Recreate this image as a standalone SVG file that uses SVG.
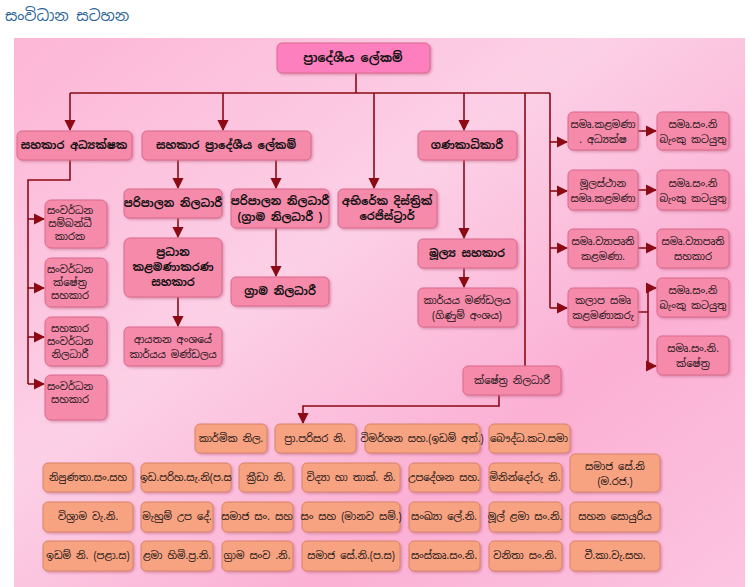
<svg xmlns="http://www.w3.org/2000/svg" width="756" height="587" viewBox="0 0 756 587">
<defs>
<linearGradient id="bg" x1="0" y1="0" x2="1" y2="1">
<stop offset="0" stop-color="#fdb6d6"/><stop offset="0.4" stop-color="#fcd0e6"/><stop offset="0.7" stop-color="#fbb0d4"/><stop offset="1" stop-color="#fcc4e0"/>
</linearGradient>
<marker id="ar" viewBox="0 0 10 10" refX="9" refY="5" markerWidth="7" markerHeight="7" orient="auto"><path d="M0,0L10,5L0,10z" fill="#8b0a14"/></marker>
<filter id="sh" x="-10%" y="-10%" width="130%" height="140%"><feDropShadow dx="1.5" dy="1.5" stdDeviation="1" flood-color="#c06080" flood-opacity="0.5"/></filter>
</defs>
<style>
text{font-family:"Noto Sans Sinhala","Iskoola Pota","Noto Sans",sans-serif;fill:#111;text-anchor:middle;font-size:10px}
.p rect{fill:#f68aaa;stroke:#d86a8c;stroke-width:1;filter:url(#sh)}
.s rect{fill:#f7a281;stroke:#d88466;stroke-width:1;filter:url(#sh)}
.b{font-weight:bold;font-size:11px}
.c path{fill:none;stroke:#8b0a14;stroke-width:1.6}
.c .a{marker-end:url(#ar)}
</style>
<rect width="756" height="587" fill="#fff"/>
<text x="5" y="21" style="text-anchor:start;font-size:15px;fill:#2a6496">සංවිධාන සටහන</text>
<rect x="14" y="38" width="731" height="549" fill="url(#bg)"/>

<g class="c">
<path d="M356,73V93M70,93H550"/>
<path class="a" d="M70,93V130"/>
<path class="a" d="M223,93V130"/>
<path class="a" d="M464,93V130"/>
<path class="a" d="M374,93V188"/>
<path d="M525,93V366"/>
<path d="M550,93V308"/>
<path class="a" d="M550,142H567"/><path class="a" d="M550,191H567"/><path class="a" d="M550,248H567"/><path class="a" d="M550,308H567"/>
<path class="a" d="M638,131H656"/><path class="a" d="M638,190H656"/><path class="a" d="M638,248H656"/>
<path d="M638,312H648M648,288V366"/>
<path class="a" d="M648,288H656"/><path class="a" d="M648,366H656"/>
<path d="M70,160V180H28V384"/>
<path class="a" d="M28,219H44"/><path class="a" d="M28,288H44"/><path class="a" d="M28,337H44"/><path class="a" d="M28,384H44"/>
<path class="a" d="M178,160V188"/><path class="a" d="M276,160V188"/>
<path class="a" d="M178,218V237"/><path class="a" d="M178,297V326"/>
<path class="a" d="M276,228V276"/>
<path class="a" d="M464,160V238"/><path class="a" d="M464,268V287"/>
<path class="a" d="M499,395V406H303V423"/>
</g>

<g id="top" class="p"><rect x="277" y="43" width="153" height="30" rx="5" style="fill:#fd7fbd"/><text class="b" x="353" y="62" style="font-size:12px">ප්‍රාදේශීය ලේකම්</text></g>
<g id="n1" class="p"><rect x="17" y="131" width="115" height="29" rx="5"/><text class="b" x="74" y="149">සහකාර අධ්‍යක්ෂක</text></g>
<g id="n2" class="p"><rect x="142" y="131" width="169" height="29" rx="5"/><text class="b" x="226" y="149">සහකාර ප්‍රාදේශීය ලේකම්</text></g>
<g id="n3" class="p"><rect x="418" y="131" width="99" height="29" rx="5"/><text class="b" x="467" y="149">ගණකාධිකාරී</text></g>
<g id="n4" class="p"><rect x="338" y="189" width="99" height="39" rx="5"/><text class="b" x="387" y="205">අභිරේක දිස්ත්‍රික්</text><text class="b" x="387" y="220">රෙජිස්ට්‍රාර්</text></g>
<g id="n5" class="p"><rect x="124" y="189" width="98" height="29" rx="5"/><text class="b" x="173" y="207">පරිපාලන නිලධාරී</text></g>
<g id="n6" class="p"><rect x="231" y="189" width="98" height="39" rx="5"/><text class="b" x="280" y="205">පරිපාලන නිලධාරී</text><text class="b" x="280" y="221">(ග්‍රාම නිලධාරී )</text></g>
<g id="n7" class="p"><rect x="124" y="238" width="98" height="59" rx="6"/><text class="b" x="173" y="256">ප්‍රධාන</text><text class="b" x="173" y="271">කළමණාකරණ</text><text class="b" x="173" y="286">සහකාර</text></g>
<g id="n8" class="p"><rect x="124" y="327" width="98" height="39" rx="5"/><text x="173" y="343">ආයතන අංශයේ</text><text x="173" y="358">කාර්යය මණ්ඩලය</text></g>
<g id="n9" class="p"><rect x="231" y="277" width="98" height="29" rx="5"/><text class="b" x="280" y="295">ග්‍රාම නිලධාරී</text></g>
<g id="n10" class="p"><rect x="418" y="239" width="99" height="29" rx="5"/><text class="b" x="467" y="257">මූල්‍ය සහකාර</text></g>
<g id="n11" class="p"><rect x="418" y="288" width="99" height="39" rx="5"/><text x="467" y="304">කාර්යය මණ්ඩලය</text><text x="467" y="319">(ගිණුම් අංශය)</text></g>
<g id="n12" class="p"><rect x="463" y="366" width="98" height="29" rx="5"/><text x="512" y="384">ක්ෂේත්‍ර නිලධාරී</text></g>
<g id="l1" class="p"><rect x="45" y="200" width="62" height="48" rx="6"/><text x="70" y="214">සංවර්ධන</text><text x="70" y="227">සම්බන්ධී</text><text x="70" y="240">කාරක</text></g>
<g id="l2" class="p"><rect x="45" y="258" width="62" height="49" rx="6"/><text x="70" y="273">සංවර්ධන</text><text x="70" y="286">ක්ෂේත්‍ර</text><text x="70" y="299">සහකාර</text></g>
<g id="l3" class="p"><rect x="45" y="317" width="62" height="49" rx="6"/><text x="70" y="332">සහකාර</text><text x="70" y="345">සංවර්ධන</text><text x="70" y="358">නිලධාරී</text></g>
<g id="l4" class="p"><rect x="45" y="375" width="62" height="45" rx="6"/><text x="70" y="390">සංවර්ධන</text><text x="70" y="403">සහකාර</text></g>
<g id="r1" class="p"><rect x="568" y="112" width="70" height="38" rx="5"/><text x="603" y="128">සමෘ.කළමණා</text><text x="603" y="143">. අධ්‍යක්ෂ</text></g>
<g id="r2" class="p"><rect x="657" y="112" width="72" height="38" rx="5"/><text x="693" y="128">සමෘ.සං.නි</text><text x="693" y="143">බැංකු කටයුතු</text></g>
<g id="r3" class="p"><rect x="568" y="170" width="70" height="40" rx="5"/><text x="603" y="187">මූලස්ථාන</text><text x="603" y="202">සමෘ.කළමණා</text></g>
<g id="r4" class="p"><rect x="657" y="170" width="72" height="40" rx="5"/><text x="693" y="187">සමෘ.සං.නි</text><text x="693" y="202">බැංකු කටයුතු</text></g>
<g id="r5" class="p"><rect x="568" y="229" width="70" height="39" rx="5"/><text x="603" y="245">සමෘ.ව්‍යාපෘති</text><text x="603" y="260">කළමණා.</text></g>
<g id="r6" class="p"><rect x="657" y="229" width="72" height="39" rx="5"/><text x="693" y="245">සමෘ.ව්‍යාපෘති</text><text x="693" y="260">සහකාර</text></g>
<g id="r7" class="p"><rect x="568" y="288" width="70" height="39" rx="5"/><text x="603" y="304">කලාප සමෘ</text><text x="603" y="319">කළමණාකරු</text></g>
<g id="r8" class="p"><rect x="657" y="278" width="72" height="39" rx="5"/><text x="693" y="294">සමෘ.සං.නි</text><text x="693" y="309">බැංකු කටයුතු</text></g>
<g id="r9" class="p"><rect x="657" y="336" width="72" height="39" rx="5"/><text x="693" y="352">සමෘ.සං.නි.</text><text x="693" y="367">ක්ෂේත්‍ර</text></g>

<g id="s1" class="s"><rect x="195" y="424" width="72" height="29" rx="5"/><text x="231" y="442">කාර්මික නිල.</text></g>
<g id="s2" class="s"><rect x="275" y="424" width="81" height="29" rx="5"/><text x="315" y="442">ප්‍රා.පරිසර නි.</text></g>
<g id="s3" class="s"><rect x="365" y="424" width="115" height="29" rx="5"/><text x="422" y="442">විමර්ශන සහ.(ඉඩම් අත්.)</text></g>
<g id="s4" class="s"><rect x="489" y="424" width="81" height="29" rx="5"/><text x="529" y="442">බෞද්ධ.කට.සමා</text></g>
<g id="s5" class="s"><rect x="43" y="463" width="90" height="29" rx="5"/><text x="88" y="481">නිපුණතා.සං.සහ</text></g>
<g id="s6" class="s"><rect x="141" y="463" width="90" height="29" rx="5"/><text x="186" y="481">ඉඩ.පරිහ.සැ.නි(ප.ස</text></g>
<g id="s7" class="s"><rect x="239" y="463" width="54" height="29" rx="5"/><text x="266" y="481">ක්‍රීඩා නි.</text></g>
<g id="s8" class="s"><rect x="302" y="463" width="98" height="29" rx="5"/><text x="351" y="481">විද්‍යා හා තාක්. නි.</text></g>
<g id="s9" class="s"><rect x="409" y="463" width="71" height="29" rx="5"/><text x="444" y="481">උපදේශන සහ.</text></g>
<g id="s10" class="s"><rect x="489" y="463" width="73" height="29" rx="5"/><text x="525" y="481">මිනින්දෝරු නි.</text></g>
<g id="s11" class="s"><rect x="570" y="454" width="90" height="38" rx="5"/><text x="615" y="470">සමාජ සේ.නි</text><text x="615" y="485">(ම.රජ.)</text></g>
<g id="s12" class="s"><rect x="43" y="502" width="90" height="30" rx="5"/><text x="88" y="520">විශ්‍රාම වැ.නි.</text></g>
<g id="s13" class="s"><rect x="141" y="502" width="72" height="30" rx="5"/><text x="177" y="520">මැහුම් උප දේ.</text></g>
<g id="s14" class="s"><rect x="222" y="502" width="71" height="30" rx="5"/><text x="257" y="520">සමාජ සං. සහ</text></g>
<g id="s15" class="s"><rect x="302" y="502" width="98" height="30" rx="5"/><text x="351" y="520">සං සහ (මානව සම්.)</text></g>
<g id="s16" class="s"><rect x="409" y="502" width="71" height="30" rx="5"/><text x="444" y="520">සංඛ්‍යා ලේ.නි.</text></g>
<g id="s17" class="s"><rect x="489" y="502" width="73" height="30" rx="5"/><text x="525" y="520">මූල් ළමා සං.නි.</text></g>
<g id="s18" class="s"><rect x="570" y="502" width="90" height="30" rx="5"/><text x="615" y="520">සහන සොයුරිය</text></g>
<g id="s19" class="s"><rect x="43" y="541" width="90" height="30" rx="5"/><text x="88" y="559">ඉඩම් නි. (පළා.ස)</text></g>
<g id="s20" class="s"><rect x="141" y="541" width="72" height="30" rx="5"/><text x="177" y="559">ළමා හිමි.ප්‍ර.නි.</text></g>
<g id="s21" class="s"><rect x="222" y="541" width="71" height="30" rx="5"/><text x="257" y="559">ග්‍රාම සංව .නි.</text></g>
<g id="s22" class="s"><rect x="302" y="541" width="98" height="30" rx="5"/><text x="351" y="559">සමාජ සේ.නි.(ප.ස)</text></g>
<g id="s23" class="s"><rect x="409" y="541" width="71" height="30" rx="5"/><text x="444" y="559">සංස්කෘ.සං.නි.</text></g>
<g id="s24" class="s"><rect x="489" y="541" width="73" height="30" rx="5"/><text x="525" y="559">වනිතා සං.නි.</text></g>
<g id="s25" class="s"><rect x="570" y="541" width="90" height="30" rx="5"/><text x="615" y="559">වී.කා.වැ.සහ.</text></g>
</svg>
